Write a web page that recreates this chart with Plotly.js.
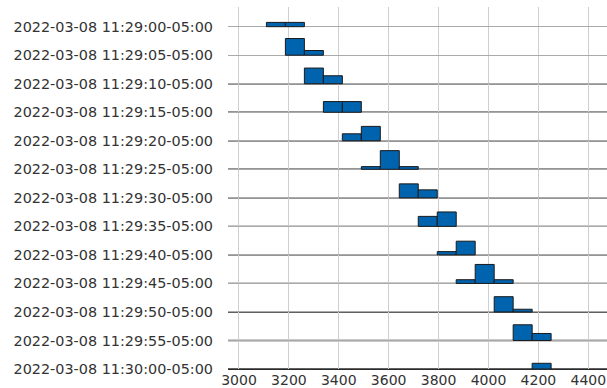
<!DOCTYPE html>
<html>
<head>
<meta charset="utf-8">
<script src="https://cdn.plot.ly/plotly-3.0.1.min.js"></script>
<style>html,body{margin:0;padding:0;background:#fff;}#chart{width:607px;height:388px;}</style>
</head>
<body>
<div id="chart"></div>
<script>
// Time windows (one histogram per row)
const timestamps = [
  "2022-03-08 11:29:00-05:00",
  "2022-03-08 11:29:05-05:00",
  "2022-03-08 11:29:10-05:00",
  "2022-03-08 11:29:15-05:00",
  "2022-03-08 11:29:20-05:00",
  "2022-03-08 11:29:25-05:00",
  "2022-03-08 11:29:30-05:00",
  "2022-03-08 11:29:35-05:00",
  "2022-03-08 11:29:40-05:00",
  "2022-03-08 11:29:45-05:00",
  "2022-03-08 11:29:50-05:00",
  "2022-03-08 11:29:55-05:00",
  "2022-03-08 11:30:00-05:00"
];
// Histogram bins (shared by all rows)
const binWidth = 76.07;
const binCenters = [3148.0, 3224.1, 3300.2, 3376.3, 3452.3, 3528.4, 3604.5, 3680.5,
                    3756.6, 3832.7, 3908.7, 3984.8, 4060.9, 4137.0, 4213.0];
// Which bins are filled in each row, and their heights (in row units)
const rowBins = [[0,1],[1,2],[2,3],[3,4],[4,5],[5,6,7],[7,8],[8,9],[9,10],[10,11,12],[12,13],[13,14],[14]];
const rowHeights = [
  [0.15, 0.15],
  [0.585, 0.165],
  [0.55, 0.28],
  [0.375, 0.375],
  [0.245, 0.505],
  [0.095, 0.655, 0.095],
  [0.49, 0.28],
  [0.35, 0.505],
  [0.115, 0.48],
  [0.13, 0.665, 0.13],
  [0.535, 0.095],
  [0.55, 0.245],
  [0.2]
];
const xTicks = [3000, 3200, 3400, 3600, 3800, 4000, 4200, 4400];

const xs = [], ys = [], bases = [];
rowBins.forEach((bins, r) => {
  bins.forEach((b, j) => {
    xs.push(binCenters[b]);
    ys.push(rowHeights[r][j]);
    bases.push(-r);
  });
});
const rowPos = timestamps.map((t, i) => -i);

const trace = {
  type: 'bar', x: xs, y: ys, base: bases, width: binWidth,
  marker: {color: '#0063ad', line: {color: '#1a1a1a', width: 1}},
  hoverinfo: 'skip', showlegend: false
};

const shapes = rowPos.slice(2).map(p => ({
  type: 'line', xref: 'paper', x0: 0, x1: 1, yref: 'y', y0: p, y1: p,
  line: {color: '#2b2b2b', width: 1.4}, layer: 'between'
}));

const layout = {
  width: 607, height: 388,
  margin: {l: 228, r: 0, t: 7, b: 19, pad: 0},
  paper_bgcolor: '#fff', plot_bgcolor: '#fff',
  font: {family: 'DejaVu Sans', size: 14, color: '#333'},
  showlegend: false,
  bargap: 0,
  xaxis: {
    range: [2956, 4475], tickvals: xTicks, ticktext: xTicks.map(String),
    showgrid: true, gridcolor: '#cfcfcf', gridwidth: 1, zeroline: false,
    showline: true, linecolor: '#2b2b2b', linewidth: 1.4,
    ticks: '', ticklabelstandoff: -2, tickfont: {family: 'DejaVu Sans', size: 14, color: '#333'}
  },
  yaxis: {
    range: [-12, 0.69], tickvals: rowPos, ticktext: timestamps,
    showgrid: true, gridcolor: '#aaaaaa', gridwidth: 1, zeroline: false,
    showline: false, ticks: '', ticklabelstandoff: 14,
    tickfont: {family: 'DejaVu Sans', size: 14.4, color: '#333'}
  },
  shapes: shapes
};

Plotly.newPlot('chart', [trace], layout, {staticPlot: true, displayModeBar: false});
</script>
</body>
</html>
